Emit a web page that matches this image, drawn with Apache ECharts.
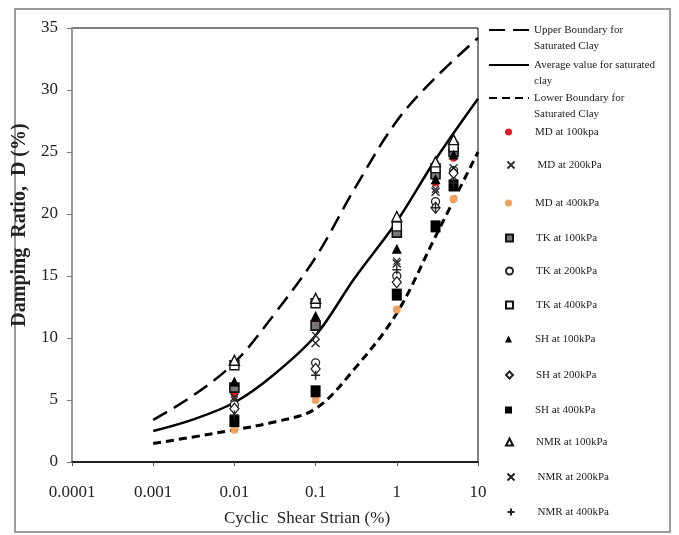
<!DOCTYPE html>
<html>
<head>
<meta charset="utf-8">
<script src="https://cdn.jsdelivr.net/npm/echarts@6/dist/echarts.min.js"></script>
<style>
  html, body { margin: 0; padding: 0; background: #fff; }
  #chart { width: 679px; height: 535px; }
</style>
</head>
<body>
<div id="chart"></div>
<script>
// Reference curves for saturated clay (strain in %, damping in %)
const curveStrain = [0.001, 0.003, 0.01, 0.03, 0.1, 0.3, 1, 3, 10];
const upperBoundary = [3.4, 5.3, 8.0, 11.8, 16.5, 22.0, 27.5, 31.0, 34.2];
const averageValue = [2.5, 3.4, 4.8, 7.0, 10.2, 14.8, 19.4, 24.4, 29.3];
const lowerBoundary = [1.5, 2.0, 2.6, 3.2, 4.3, 7.5, 12.0, 18.2, 25.0];

// Test strains and measured damping ratios
const testStrain = [0.01, 0.1, 1, 3, 5];
const md100 = [5.5, 11.5, 18.5, 22.5, 24.5];
const md200 = [5.0, 10.2, 16.2, 22.0, 23.0];
const md400 = [2.6, 5.0, 12.3, 21.0, 21.2];
const tk100 = [6.0, 11.0, 18.5, 23.2, 25.0];
const tk200 = [4.6, 8.0, 15.0, 21.0, 23.5];
const tk400 = [7.8, 12.8, 19.0, 23.7, 25.4];
const sh100 = [6.5, 11.8, 17.2, 22.8, 24.8];
const sh200 = [4.3, 7.5, 14.5, 20.5, 23.3];
const sh400 = [3.3, 5.7, 13.5, 19.0, 22.3];
const nmr100 = [8.2, 13.2, 19.8, 24.2, 26.0];
const nmr200 = [5.2, 9.6, 16.0, 21.8, 23.7];
const nmr400 = [3.8, 7.0, 15.5, 20.5, 22.5];

const xTickLabels = ['0.0001', '0.001', '0.01', '0.1', '1', '10'];

const serif = 'Liberation Serif';
const pairs = (xs, ys) => xs.map((x, i) => [x, ys[i]]);

const crossPath = 'path://M0,0L10,10M10,0L0,10';
const plusPath = 'path://M5,0L5,10M0,5L10,5';

function lineSeries(name, ys, dash, width) {
  return {
    name, type: 'line', data: pairs(curveStrain, ys),
    smooth: 0.35, symbol: 'none', showSymbol: false,
    itemStyle: { color: '#000' },
    lineStyle: { color: '#000', width, type: dash },
    z: 2
  };
}
function scatterSeries(name, ys, symbol, size, fill, stroke, bw) {
  return {
    name, type: 'scatter', data: pairs(testStrain, ys),
    symbol, symbolSize: size,
    itemStyle: { color: fill, borderColor: stroke, borderWidth: bw, opacity: 1 },
    z: 3
  };
}

const series = [
  lineSeries('Upper Boundary for Saturated Clay', upperBoundary, [16, 8], 2.5),
  lineSeries('Average value for saturated clay', averageValue, 'solid', 2.5),
  lineSeries('Lower Boundary for Saturated Clay', lowerBoundary, [8, 5], 3),
  scatterSeries('MD at 100kpa', md100, 'circle', 7, '#e31b23', '#e31b23', 0),
  scatterSeries('MD at 200kPa', md200, crossPath, 7, 'none', '#333', 1.3),
  scatterSeries('MD at 400kPa', md400, 'circle', 8, '#f3a15f', '#f3a15f', 0),
  scatterSeries('TK at 100kPa', tk100, 'rect', 9, '#777', '#111', 1.6),
  scatterSeries('TK at 200kPa', tk200, 'circle', 8, '#fff', '#222', 1.3),
  scatterSeries('TK at 400kPa', tk400, 'rect', 9, '#fff', '#111', 1.4),
  scatterSeries('SH at 100kPa', sh100, 'triangle', 10, '#000', '#000', 0),
  scatterSeries('SH at 200kPa', sh200, 'diamond', [9, 11], '#fff', '#222', 1.3),
  scatterSeries('SH at 400kPa', sh400, 'rect', [10, 12], '#000', '#000', 0),
  scatterSeries('NMR at 100kPa', nmr100, 'triangle', 10, '#fff', '#111', 1.4),
  scatterSeries('NMR at 200kPa', nmr200, crossPath, 8, 'none', '#222', 1.4),
  scatterSeries('NMR at 400kPa', nmr400, plusPath, 9, 'none', '#222', 1.4)
];

// Legend captions; the curve captions wrap onto two lines, the first line level with the sample line
const legendText = {
  'Upper Boundary for Saturated Clay': ['Upper Boundary for', 'Saturated Clay'],
  'Average value for saturated clay': ['Average value for saturated', 'clay'],
  'Lower Boundary for Saturated Clay': ['Lower Boundary for', 'Saturated Clay']
};
const legendRowY = [30, 65, 98, 132, 165, 203, 238, 271, 305, 339, 375, 410, 442, 477, 512];

const legends = series.map((s, i) => {
  const isLine = s.type === 'line';
  const lines = legendText[s.name];
  const lh = 16;
  const h = lines ? lh * 3 : lh;
  const leg = {
    data: [{ name: s.name }],
    orient: 'vertical',
    left: isLine ? 488 : 505,
    top: legendRowY[i] - h / 2,
    padding: 0,
    itemWidth: isLine ? 40 : 7,
    itemHeight: isLine ? 12 : 7,
    selectedMode: false,
    formatter: n => lines
      ? '{t| }\n{t|' + lines[0] + '}\n{t|' + lines[1] + '}'
      : '{g|}{t|' + n + '}',
    textStyle: {
      fontFamily: serif, fontSize: 11, color: '#222', lineHeight: lh,
      rich: {
        g: { width: 18 },
        t: { fontFamily: serif, fontSize: 11, color: '#222', lineHeight: lh }
      }
    }
  };
  if (isLine) leg.itemStyle = { opacity: 0 };
  return leg;
});

const chart = echarts.init(document.getElementById('chart'));
chart.setOption({
  animation: false,
  backgroundColor: '#fff',
  grid: {
    left: 72, right: 201, top: 28, bottom: 73,
    show: true, borderColor: '#000', borderWidth: 1
  },
  legend: legends,
  xAxis: {
    type: 'log', logBase: 10, min: 0.0001, max: 10,
    name: 'Cyclic  Shear Strian (%)',
    nameLocation: 'middle', nameGap: 48,
    nameTextStyle: { fontFamily: serif, fontSize: 17, color: '#222', padding: [0, 0, 0, 64] },
    axisLine: { lineStyle: { color: '#000', width: 1.5 } },
    axisTick: { show: true, length: 4, lineStyle: { color: '#555' } },
    minorTick: { show: false },
    splitLine: { show: false },
    axisLabel: {
      fontFamily: serif, fontSize: 17, color: '#222', margin: 22,
      formatter: v => {
        const k = Math.round(Math.log10(v)) + 4;
        return xTickLabels[k] !== undefined ? xTickLabels[k] : '';
      }
    }
  },
  yAxis: {
    type: 'value', min: 0, max: 35, interval: 5,
    name: 'Damping  Ratio,  D (%)',
    nameLocation: 'middle', nameGap: 30,
    nameTextStyle: { fontFamily: serif, fontSize: 20, fontWeight: 'bold', color: '#222', padding: [0, 0, 0, 40] },
    axisLine: { show: true, lineStyle: { color: '#9a9a9a', width: 2 } },
    axisTick: { show: true, length: 5, lineStyle: { color: '#777' } },
    splitLine: { show: false },
    axisLabel: { fontFamily: serif, fontSize: 17, color: '#222', margin: 14 }
  },
  graphic: [{
    type: 'rect', silent: true, z: -10,
    shape: { x: 15, y: 9, width: 655, height: 523 },
    style: { fill: 'none', stroke: '#9a9a9a', lineWidth: 2 }
  }],
  series
});
</script>
</body>
</html>
